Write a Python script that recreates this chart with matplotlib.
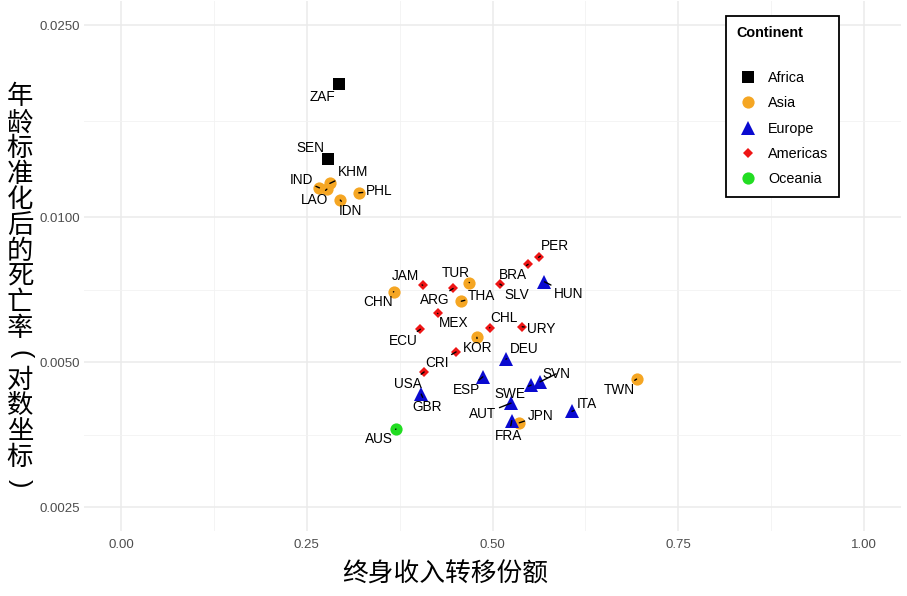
import matplotlib
matplotlib.use("Agg")
import matplotlib.pyplot as plt
from matplotlib.lines import Line2D

# ---------------- data ----------------
codes = ["ZAF", "SEN", "IND", "KHM", "LAO", "PHL", "IDN", "CHN", "TUR", "THA",
         "KOR", "TWN", "JPN", "HUN", "DEU", "ESP", "SWE", "SVN", "AUT", "FRA",
         "ITA", "GBR", "PER", "BRA", "SLV", "JAM", "ARG", "MEX", "CHL", "URY",
         "ECU", "CRI", "USA", "AUS"]
continent = ["Africa", "Africa", "Asia", "Asia", "Asia", "Asia", "Asia", "Asia", "Asia", "Asia",
             "Asia", "Asia", "Asia", "Europe", "Europe", "Europe", "Europe", "Europe", "Europe", "Europe",
             "Europe", "Europe", "Americas", "Americas", "Americas", "Americas", "Americas", "Americas",
             "Americas", "Americas", "Americas", "Americas", "Americas", "Oceania"]
transfer_share = [0.294, 0.278, 0.267, 0.281, 0.277, 0.320, 0.295, 0.367, 0.469, 0.458,
                  0.479, 0.694, 0.536, 0.570, 0.518, 0.487, 0.552, 0.564, 0.525, 0.526,
                  0.607, 0.404, 0.562, 0.548, 0.510, 0.406, 0.447, 0.426, 0.496, 0.540,
                  0.403, 0.451, 0.408, 0.370]
mortality = [0.0189, 0.0132, 0.0115, 0.01175, 0.01143, 0.01123, 0.01085, 0.0070, 0.00731, 0.00669,
             0.00563, 0.00461, 0.00374, 0.00734, 0.00507, 0.00466, 0.00448, 0.00455, 0.00411, 0.00378,
             0.00395, 0.00429, 0.00825, 0.00798, 0.00726, 0.00722, 0.00711, 0.00631, 0.00589, 0.00592,
             0.00585, 0.00525, 0.00477, 0.00363]

continent_order = ["Africa", "Asia", "Europe", "Americas", "Oceania"]
x_ticks = [0.00, 0.25, 0.50, 0.75, 1.00]
x_ticklabels = ["0.00", "0.25", "0.50", "0.75", "1.00"]
y_ticks = [0.0025, 0.0050, 0.0100, 0.0250]
y_ticklabels = ["0.0025", "0.0050", "0.0100", "0.0250"]
x_title = "终身收入转移份额"
y_title = "年龄标准化后的死亡率(对数坐标)"
legend_title = "Continent"

# ---------------- styles ----------------
styles = {
    "Africa":   dict(marker="s", color="#000000", ms=8.4),
    "Asia":     dict(marker="o", color="#F5A623", ms=8.8),
    "Europe":   dict(marker="^", color="#0A0AD0", ms=10.0),
    "Americas": dict(marker="D", color="#EE1515", ms=5.2),
    "Oceania":  dict(marker="o", color="#22DD22", ms=8.8),
}
# label offsets in pixels (right, down)
label_offsets = {
    "ZAF": (-17, 13), "SEN": (-17, -11), "IND": (-18, -8), "KHM": (23, -11),
    "LAO": (-12, 11), "PHL": (20, -2), "IDN": (10, 11), "CHN": (-16, 10),
    "TUR": (-14, -10), "THA": (20, -5), "KOR": (1, 11), "TWN": (-17, 11),
    "JPN": (21, -7), "HUN": (24, 12), "DEU": (18, -10), "ESP": (-16, 13),
    "SWE": (-21, 9), "SVN": (16, -8), "AUT": (-28, 11), "FRA": (-3, 15),
    "ITA": (15, -7), "GBR": (6, 13), "PER": (16, -11), "BRA": (-15, 11),
    "SLV": (17, 11), "JAM": (-17, -9), "ARG": (-18, 12), "MEX": (16, 10),
    "CHL": (14, -10), "URY": (19, 2), "ECU": (-17, 12), "CRI": (-19, 11),
    "USA": (-16, 12), "AUS": (-17, 10),
}

LATIN = ["Liberation Sans", "DejaVu Sans"]
CJK = ["Noto Sans CJK SC", "DejaVu Sans"]
plt.rcParams["font.family"] = LATIN

W, H = 907, 596
fig = plt.figure(figsize=(W / 100, H / 100), dpi=100)
ax = fig.add_axes([84 / W, (H - 531) / H, (901 - 84) / W, 530 / H])

ax.set_yscale("log")
ax.set_xlim(-0.05, 1.05)
ax.set_ylim(0.00223, 0.0281)

# grid
for s in ax.spines.values():
    s.set_visible(False)
ax.set_xticks(x_ticks)
ax.set_xticklabels(x_ticklabels)
ax.set_yticks(y_ticks)
ax.set_yticklabels(y_ticklabels)
ax.set_xticks([0.125, 0.375, 0.625, 0.875], minor=True)
ax.set_yticks([(0.0025 * 0.005) ** 0.5, (0.005 * 0.01) ** 0.5, (0.01 * 0.025) ** 0.5], minor=True)
ax.yaxis.set_minor_formatter(matplotlib.ticker.NullFormatter())
ax.xaxis.set_minor_formatter(matplotlib.ticker.NullFormatter())
ax.grid(True, which="major", color="#EBEBEB", linewidth=1.1)
ax.grid(True, which="minor", color="#F2F2F2", linewidth=0.6)
ax.set_axisbelow(True)
ax.tick_params(which="both", length=0, labelsize=9.5, labelcolor="#4D4D4D")
ax.tick_params(axis="x", pad=6)
ax.tick_params(axis="y", pad=3)

# points
for cont in continent_order:
    st = styles[cont]
    xs = [x for x, c in zip(transfer_share, continent) if c == cont]
    ys = [y for y, c in zip(mortality, continent) if c == cont]
    ax.plot(xs, ys, linestyle="none", marker=st["marker"], color=st["color"],
            markersize=st["ms"], markeredgewidth=0, zorder=3)

# labels with leader segments
for code, x, y in zip(codes, transfer_share, mortality):
    dx, dy = label_offsets[code]
    ax.annotate(code, xy=(x, y), xytext=(dx, -dy), textcoords="offset pixels",
                ha="center", va="center", fontsize=9.8, color="black", zorder=4,
                arrowprops=dict(arrowstyle="-", color="black", lw=1.0,
                                shrinkA=0, shrinkB=0))

# legend
handles = [Line2D([], [], linestyle="none", marker=styles[c]["marker"],
                  color=styles[c]["color"], markersize=styles[c]["ms"],
                  markeredgewidth=0) for c in continent_order]
leg = ax.legend(handles, continent_order, title=legend_title + "\n",
                loc="upper left", bbox_to_anchor=(726 / W, 1 - 16 / H),
                bbox_transform=fig.transFigure, borderaxespad=0,
                fontsize=10.4, title_fontproperties={"weight": "bold", "size": 10.4},
                alignment="left", frameon=True, fancybox=False, framealpha=1,
                edgecolor="black", handlelength=1.6, handletextpad=0.6,
                borderpad=0.72, labelspacing=0.78)
leg.get_title().set_linespacing(1.5)
leg.get_frame().set_linewidth(1.3)

# axis titles
fig.text(445 / W, 1 - 575 / H, x_title, ha="center", va="center",
         fontsize=18.5, family=CJK)
n = len(y_title)
top_c, bot_c = 97, 483
for i, ch in enumerate(y_title):
    yc = top_c + i * (bot_c - top_c) / (n - 1)
    if ch in "()":
        fig.text(20 / W, 1 - yc / H, ch, ha="center", va="center", rotation=-90,
                 fontsize=18, family=LATIN)
    else:
        fig.text(20 / W, 1 - yc / H, ch, ha="center", va="center",
                 fontsize=19, family=CJK)

fig.savefig("out.png", dpi=100)
